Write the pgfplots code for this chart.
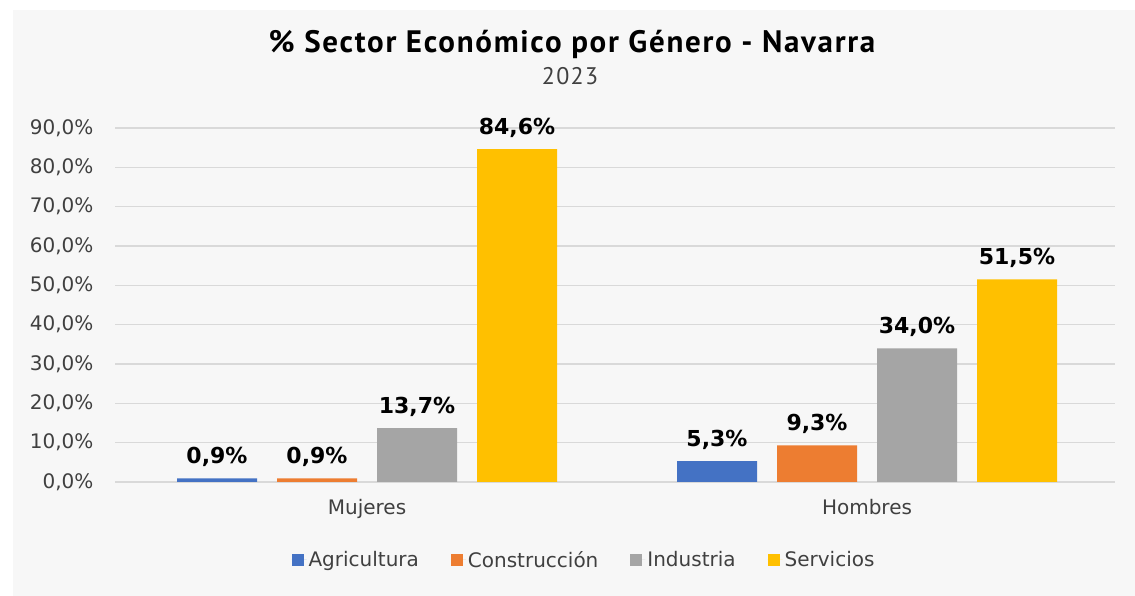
\documentclass[border=0pt]{standalone}
\usepackage{pgfplots}
\pgfplotsset{compat=1.18}
\usepackage{fontspec}
\setmainfont{DejaVu Sans}
\newfontfamily\titlefont[LetterSpace=5.5]{PT Sans}
\definecolor{bgc}{HTML}{F7F7F7}
\definecolor{gridc}{HTML}{D9D9D9}
\definecolor{txt}{HTML}{404040}
\definecolor{cA}{HTML}{4472C4}
\definecolor{cC}{HTML}{ED7D31}
\definecolor{cI}{HTML}{A5A5A5}
\definecolor{cS}{HTML}{FFC000}
\begin{document}
\begin{tikzpicture}[x=1pt,y=1pt]
\useasboundingbox (0,0) rectangle (1135,596);
\fill[white] (0,0) rectangle (1135,596);
\fill[bgc] (13,0) rectangle (1135,586);
\node[font=\titlefont\bfseries\fontsize{31}{36}\selectfont] at (572,552) {\% Sector Económico por Género - Navarra};
\node[font=\titlefont\fontsize{24}{28}\selectfont, text=txt] at (570,520) {2023};
\begin{axis}[
  at={(115pt,114pt)}, anchor=south west,
  scale only axis, width=1000pt, height=354pt,
  xmin=-0.504, xmax=1.496, ymin=0, ymax=90,
  axis line style={draw=none},
  major tick length=0pt,
  ymajorgrids, grid style={gridc, line width=1.5pt},
  ytick={0,10,...,90},
  yticklabels={{0,0\%},{10,0\%},{20,0\%},{30,0\%},{40,0\%},{50,0\%},{60,0\%},{70,0\%},{80,0\%},{90,0\%}},
  yticklabel style={font=\fontsize{20}{24}\selectfont, text=txt, xshift=-18pt},
  xtick={0,1}, xticklabels={Mujeres,Hombres},
  xticklabel style={font=\fontsize{20}{24}\selectfont, text=txt, yshift=-14pt},
  /pgf/number format/assume math mode=true,
  bar width=0.16,
  nodes near coords={\pgfmathprintnumber[fixed,fixed zerofill,precision=1,use comma]{\pgfplotspointmeta}\%},
  every node near coord/.append style={font=\bfseries\fontsize{22}{26}\selectfont, text=black, yshift=8pt},
  legend style={at={(0.469,-0.22)}, anchor=center, draw=none, fill=none,
    legend columns=4, font=\fontsize{20}{24}\selectfont, text=txt,
    /tikz/every even column/.append style={column sep=30pt}},
  legend image code/.code={\fill[#1,draw=none] (0pt,-6pt) rectangle (12pt,6pt); \path (0pt,0pt) -- (15pt,0pt);},
]
\addplot[ybar, bar shift=0pt, fill=cA, draw=none] coordinates {(-0.3,0.9) (0.7,5.3)};
\addplot[ybar, bar shift=0pt, fill=cC, draw=none] coordinates {(-0.1,0.9) (0.9,9.3)};
\addplot[ybar, bar shift=0pt, fill=cI, draw=none] coordinates {(0.1,13.7) (1.1,34.0)};
\addplot[ybar, bar shift=0pt, fill=cS, draw=none] coordinates {(0.3,84.6) (1.3,51.5)};
\legend{Agricultura,Construcción,Industria,Servicios}
\end{axis}
\end{tikzpicture}
\end{document}
